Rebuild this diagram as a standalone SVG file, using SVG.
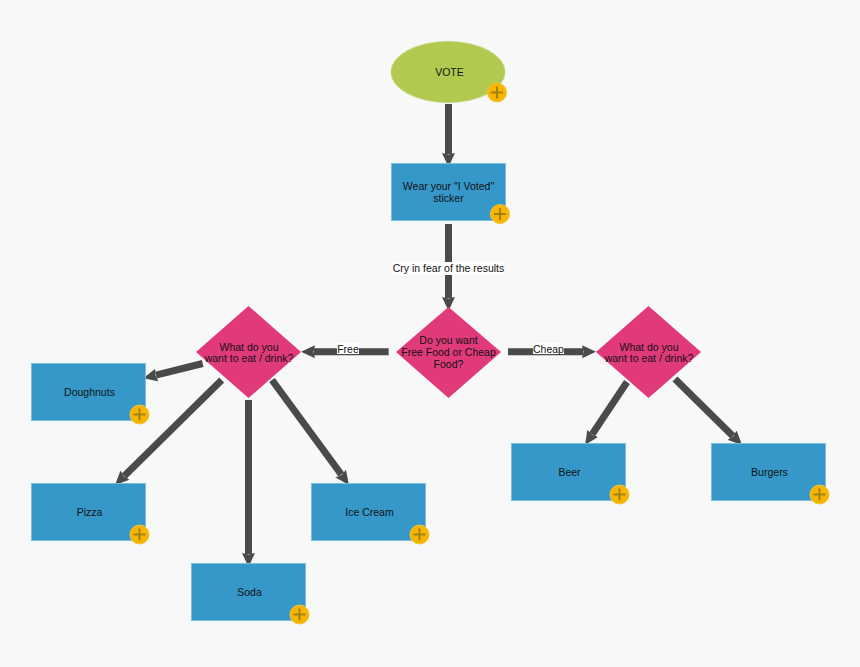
<svg xmlns="http://www.w3.org/2000/svg" width="860" height="667" viewBox="0 0 860 667">
<style>
text{font-family:"Liberation Sans",Arial,sans-serif;font-size:10.5px;fill:#111;text-anchor:middle}
.box{fill:#3598c9;stroke:#7cbcdc;stroke-width:1}
.dia{fill:#e13a7b}
.oval{fill:#b2c94f;stroke:#c4d67c;stroke-width:1}
.badge{fill:#f7b500;stroke:#f4c430;stroke-width:1}
.plus{stroke:#a1820c;stroke-width:2;fill:none}
.con{stroke:#4a4a4a;stroke-width:7;fill:none;marker-end:url(#arrow)}
.lab{fill:#fff}
</style>
<defs>
<marker id="arrow" markerUnits="userSpaceOnUse" markerWidth="15" markerHeight="14" refX="1" refY="7" orient="auto">
<path d="M0,0.5 L1.500,7 L0,13.500 L14,7 Z" fill="#4a4a4a"/>
</marker>
<g id="p5"><circle r="9.500" class="badge"/><path class="plus" d="M-6,0H6M0,-6V6"/></g>
</defs>
<rect width="860" height="667" fill="#f8f8f8"/>
<g id="connectors">
<path class="con" d="M448.500,104V154"/>
<path class="con" d="M448.500,224V298"/>
<path class="con" d="M388.700,351.700H314"/>
<path class="con" d="M508,351.700H583"/>
<path class="con" d="M202.700,363.500L155.900,375.200"/>
<path class="con" d="M221.700,380L124.300,475.900"/>
<path class="con" d="M248.500,400V554"/>
<path class="con" d="M272,380L341.300,474.500"/>
<path class="con" d="M627,382L592.200,434.200"/>
<path class="con" d="M675,379L732.800,435.900"/>
<rect class="lab" x="393" y="262" width="111" height="13"/>
<text x="448.500" y="272">Cry in fear of the results</text>
<rect class="lab" x="337" y="343" width="22" height="11"/>
<text x="348" y="353">Free</text>
<rect class="lab" x="533" y="343" width="31" height="11"/>
<text x="548.500" y="353">Cheap</text>
</g>
<g id="vote"><ellipse class="oval" cx="448" cy="72" rx="57" ry="30.500"/><text x="449.500" y="76">VOTE</text><use href="#p5" x="497" y="92.500"/></g>
<g id="sticker"><rect class="box" x="391.500" y="163.500" width="114" height="57"/><text x="448.500" y="190">Wear your "I Voted"</text><text x="448.500" y="202">sticker</text><use href="#p5" x="500" y="214"/></g>
<g id="decision"><polygon class="dia" points="448.500,307 501,352 448.500,398 396,352"/><text x="448.500" y="344">Do you want</text><text x="448.500" y="356">Free Food or Cheap</text><text x="448.500" y="368">Food?</text></g>
<g id="free"><polygon class="dia" points="248.500,306 301,352 248.500,398 196,352"/><text x="249" y="350.500">What do you</text><text x="249" y="362">want to eat / drink?</text></g>
<g id="cheap"><polygon class="dia" points="648.500,306 701,352 648.500,398 596,352"/><text x="649" y="350.500">What do you</text><text x="649" y="362">want to eat / drink?</text></g>
<g id="doughnuts"><rect class="box" x="31.500" y="363.500" width="114" height="57"/><text x="89.500" y="395.500">Doughnuts</text><use href="#p5" x="139.500" y="414.500"/></g>
<g id="pizza"><rect class="box" x="31.500" y="483.500" width="114" height="57"/><text x="89.500" y="515.500">Pizza</text><use href="#p5" x="139.500" y="534.500"/></g>
<g id="soda"><rect class="box" x="191.500" y="563.500" width="114" height="57"/><text x="249.500" y="595.500">Soda</text><use href="#p5" x="299.500" y="614.500"/></g>
<g id="icecream"><rect class="box" x="311.500" y="483.500" width="114" height="57"/><text x="369.500" y="515.500">Ice Cream</text><use href="#p5" x="419.500" y="534.500"/></g>
<g id="beer"><rect class="box" x="511.500" y="443.500" width="114" height="57"/><text x="569.500" y="475.500">Beer</text><use href="#p5" x="619.500" y="494.500"/></g>
<g id="burgers"><rect class="box" x="711.500" y="443.500" width="114" height="57"/><text x="769.500" y="475.500">Burgers</text><use href="#p5" x="819.500" y="494.500"/></g>
</svg>
